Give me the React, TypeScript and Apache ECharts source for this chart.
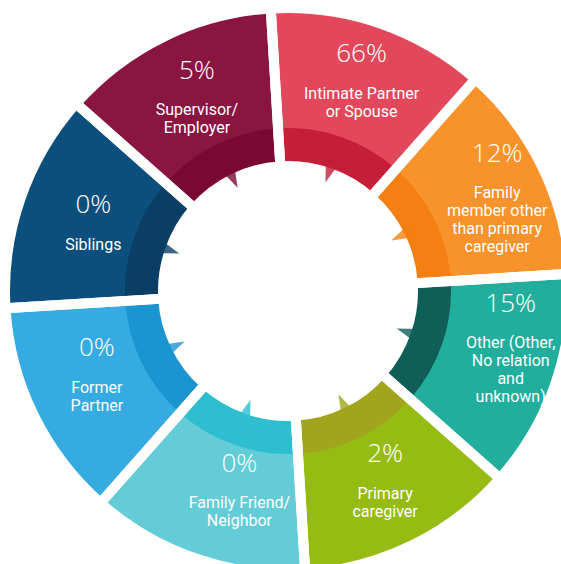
import React, { useEffect, useRef } from "react";
import * as echarts from "echarts";

// Segments, clockwise from the top
const categories = [
  "Intimate Partner\nor Spouse",
  "Family\nmember other\nthan primary\ncaregiver",
  "Other (Other,\nNo relation\nand\nunknown)",
  "Primary\ncaregiver",
  "Family Friend/\nNeighbor",
  "Former\nPartner",
  "Siblings",
  "Supervisor/\nEmployer",
];
const percents = [66, 12, 15, 2, 0, 0, 0, 5];
// the source draws every segment the same size, whatever its percentage
const segmentWeights = [1, 1, 1, 1, 1, 1, 1, 1];
const mainColors = ["#e2475b", "#f8922b", "#21ae9d", "#96bb13", "#64ccd7", "#36abe2", "#0c4f7d", "#8b1541"];
const darkColors = ["#c41e39", "#f47f12", "#0f5e57", "#a0a51d", "#2dbfcf", "#1b95d0", "#0a3e64", "#790833"];

// layout: label nudges [right, up] in px (styling only)
const labelNudges: [number, number][] = [
  [0, 7], [6, 4], [9, 27], [-2, 24], [25, 25], [12, 26], [19, 5], [8, 1],
];

const CX = 288;
const CY = 291;
const INNER = 130;
const BAND = 163;
const OUTER = 278;
const GAP = 10;
const START = 93.5;

export default function App() {
  const ref = useRef<HTMLDivElement>(null);
  useEffect(() => {
    if (!ref.current) return;
    const chart = echarts.init(ref.current, null, { renderer: "svg" });
    const half = GAP / 2;
    const segAngle = 360 / categories.length;
    chart.setOption({
      animation: false,
      polar: { center: [CX, CY], radius: OUTER },
      angleAxis: { type: "value", min: 0, max: 360, startAngle: START, clockwise: true, show: false },
      radiusAxis: { type: "value", min: 0, max: OUTER, show: false },
      series: [
        {
          type: "pie",
          center: [CX, CY],
          radius: [INNER - half, BAND + 4],
          startAngle: START,
          clockwise: true,
          silent: true,
          label: { show: false },
          labelLine: { show: false },
          z: 1,
          data: categories.map((c, i) => ({ name: c, value: segmentWeights[i], itemStyle: { color: darkColors[i] } })),
        },
        {
          type: "pie",
          center: [CX, CY],
          radius: [BAND, OUTER + half],
          startAngle: START,
          clockwise: true,
          silent: true,
          avoidLabelOverlap: false,
          z: 3,
          labelLine: { show: false },
          label: {
            show: true,
            position: "inside",
            formatter: (p: any) => `{p|${percents[p.dataIndex]}%}\n{n|${categories[p.dataIndex]}}`,
            rich: {
              p: {
                fontFamily: "'Open Sans', 'Noto Sans', sans-serif",
                fontSize: 26,
                fontWeight: 300,
                color: "#ffffff",
                lineHeight: 64,
                align: "center",
              },
              n: {
                fontFamily: "Roboto, 'Liberation Sans', sans-serif",
                fontSize: 16,
                color: "#ffffff",
                lineHeight: 18,
                align: "center",
              },
            },
          },
          data: categories.map((c, i) => {
            const [r, u] = labelNudges[i];
            return {
              name: c,
              value: segmentWeights[i],
              itemStyle: { color: mainColors[i] },
              label: {
                padding: [Math.max(0, -2 * u), Math.max(0, -2 * r), Math.max(0, 2 * u), Math.max(0, 2 * r)],
              },
            };
          }),
        },
        {
          type: "pie",
          center: [CX, CY],
          radius: [INNER - half, OUTER + half],
          startAngle: START,
          clockwise: true,
          silent: true,
          z: 4,
          label: { show: false },
          labelLine: { show: false },
          itemStyle: { color: "rgba(0,0,0,0)", borderColor: "#ffffff", borderWidth: GAP },
          data: categories.map((c, i) => ({ name: c, value: segmentWeights[i] })),
        },
        {
          type: "scatter",
          coordinateSystem: "polar",
          symbol: "triangle",
          symbolSize: [14, 22],
          silent: true,
          z: 10,
          data: categories.map((c, i) => {
            const a = (i + 0.5) * segAngle;
            const phi = START - a;
            return {
              value: [INNER - 4, a],
              symbolRotate: phi + 90,
              itemStyle: { color: darkColors[i] },
            };
          }),
        },
      ],
    });
    return () => chart.dispose();
  }, []);
  return (
    <div
      ref={ref}
      style={{ position: "absolute", left: 0, top: 0, width: 561, height: 564, background: "#ffffff" }}
    />
  );
}
